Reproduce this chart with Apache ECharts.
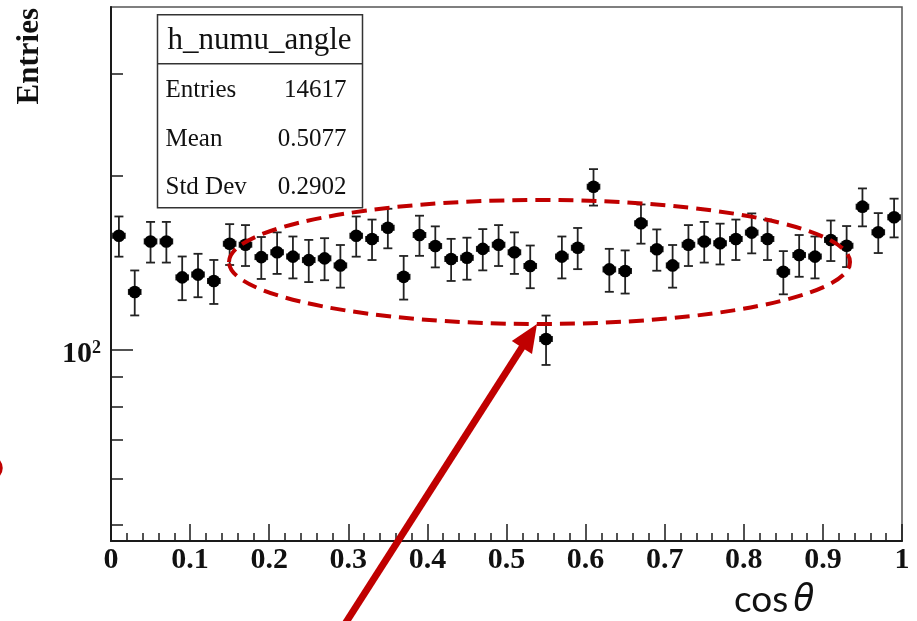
<!DOCTYPE html>
<html>
<head>
<meta charset="utf-8">
<script src="https://cdn.jsdelivr.net/npm/echarts@6/dist/echarts.min.js"></script>
<style>
html,body{margin:0;padding:0;background:#fff;}
#chart{width:917px;height:621px;}
</style>
</head>
<body>
<div id="chart"></div>
<script>
// ---- data ----
const binCenters = [0.01,0.03,0.05,0.07,0.09,0.11,0.13,0.15,0.17,0.19,
                    0.21,0.23,0.25,0.27,0.29,0.31,0.33,0.35,0.37,0.39,
                    0.41,0.43,0.45,0.47,0.49,0.51,0.53,0.55,0.57,0.59,
                    0.61,0.63,0.65,0.67,0.69,0.71,0.73,0.75,0.77,0.79,
                    0.81,0.83,0.85,0.87,0.89,0.91,0.93,0.95,0.97,0.99];
const counts = [157.5,126,154,154,133.5,135,131.6,152.6,152,144.7,
                147.5,145,143,144,140,157.5,155.5,162.6,133.8,158,
                151.2,143.6,144.3,149.5,152,147.5,139.7,104.5,145,150.2,
                191.4,137.8,136.9,165.5,149.3,140,152,154,152.9,155.5,
                159.5,155.5,136.5,145.9,145,154.9,151.4,176.8,159.7,169.5];
const binHalfWidth = 0.0075;
const xTickLabels = ['0','0.1','0.2','0.3','0.4','0.5','0.6','0.7','0.8','0.9','1'];
const yMinorTicks = [50,60,70,80,90,200,300];
const yMajorTicks = [100];
const statsTitle = 'h_numu_angle';
const statsNames = ['Entries','Mean','Std Dev'];
const statsValues = ['14617','0.5077','0.2902'];

const serif = '"Liberation Serif", "Times New Roman", serif';
const axisColor = '#1a1a1a';

const seriesData = binCenters.map((x, i) => [x, counts[i], Math.sqrt(counts[i])]);

const chart = echarts.init(document.getElementById('chart'), null, {renderer: 'canvas'});

function renderPoint(params, api) {
  const x = api.value(0), y = api.value(1), e = api.value(2);
  const c = api.coord([x, y]);
  const top = api.coord([x, y + e]);
  const bot = api.coord([x, y - e]);
  const l = api.coord([x - binHalfWidth, y]);
  const r = api.coord([x + binHalfWidth, y]);
  const st = {stroke: '#222', lineWidth: 1.8};
  return {
    type: 'group',
    children: [
      {type: 'line', shape: {x1: c[0], y1: top[1], x2: c[0], y2: bot[1]}, style: st},
      {type: 'line', shape: {x1: c[0] - 4.5, y1: top[1], x2: c[0] + 4.5, y2: top[1]}, style: st},
      {type: 'line', shape: {x1: c[0] - 4.5, y1: bot[1], x2: c[0] + 4.5, y2: bot[1]}, style: st},
      {type: 'line', shape: {x1: l[0], y1: c[1], x2: r[0], y2: c[1]}, style: st},
      {type: 'line', shape: {x1: l[0], y1: c[1] - 3, x2: l[0], y2: c[1] + 3}, style: st},
      {type: 'line', shape: {x1: r[0], y1: c[1] - 3, x2: r[0], y2: c[1] + 3}, style: st},
      {type: 'circle', shape: {cx: c[0], cy: c[1], r: 6.3}, style: {fill: '#000'}}
    ]
  };
}

const statsChildren = [
  {type: 'rect', shape: {x: 0, y: 0, width: 205, height: 193}, style: {fill: '#fff', stroke: '#333', lineWidth: 1.5}},
  {type: 'line', shape: {x1: 0, y1: 49, x2: 205, y2: 49}, style: {stroke: '#333', lineWidth: 1.5}},
  {type: 'text', x: 102, y: 26, style: {text: statsTitle, font: '31px ' + serif, align: 'center', verticalAlign: 'middle', fill: '#111'}}
];
statsNames.forEach((n, i) => {
  const yy = 76 + i * 48.5;
  statsChildren.push({type: 'text', x: 8, y: yy, style: {text: n, font: '25px ' + serif, align: 'left', verticalAlign: 'middle', fill: '#111'}});
  statsChildren.push({type: 'text', x: 189, y: yy, style: {text: statsValues[i], font: '25px ' + serif, align: 'right', verticalAlign: 'middle', fill: '#111'}});
});

// arrow geometry (annotation)
const tip = [537, 324], start = [343, 627];
const dx = tip[0] - start[0], dy = tip[1] - start[1];
const len = Math.hypot(dx, dy);
const ux = dx / len, uy = dy / len;
const headLen = 28, headHalf = 12;
const base = [tip[0] - ux * headLen, tip[1] - uy * headLen];
const px = -uy, py = ux;

const option = {
  backgroundColor: '#fff',
  animation: false,
  grid: {left: 111, right: 15, top: 7, bottom: 80, show: true, borderColor: '#555', borderWidth: 1.5, backgroundColor: 'transparent'},
  xAxis: {
    type: 'value', min: 0, max: 1, interval: 0.1,
    axisLine: {lineStyle: {color: axisColor, width: 2}},
    axisTick: {inside: true, length: 17, lineStyle: {color: axisColor, width: 1.5}},
    minorTick: {show: true, splitNumber: 5, length: 8, lineStyle: {color: axisColor, width: 1.5}},
    axisLabel: {
      fontFamily: serif, fontWeight: 'bold', fontSize: 30, color: '#111', margin: 4,
      formatter: v => xTickLabels[Math.round(v * 10)]
    },
    splitLine: {show: false}, minorSplitLine: {show: false}
  },
  yAxis: [
    {
      type: 'log', logBase: 10, min: 46.85, max: 390.8, position: 'left', offset: 0,
      axisLine: {show: true, lineStyle: {color: axisColor, width: 2}},
      axisTick: {show: true, inside: true, length: 12, customValues: yMinorTicks, lineStyle: {color: axisColor, width: 1.5}},
      axisLabel: {
        customValues: yMajorTicks, margin: 10, padding: [9, 0, 0, 0],
        formatter: () => '{a|10}{b|2}',
        rich: {
          a: {fontFamily: serif, fontWeight: 'bold', fontSize: 30, color: '#111', lineHeight: 30},
          b: {fontFamily: serif, fontWeight: 'bold', fontSize: 18, color: '#111', verticalAlign: 'top', lineHeight: 18}
        }
      },
      splitLine: {show: false}
    },
    {
      type: 'log', logBase: 10, min: 46.85, max: 390.8, position: 'left', offset: 0,
      axisLine: {show: false},
      axisTick: {show: true, inside: true, length: 22, customValues: yMajorTicks, lineStyle: {color: axisColor, width: 1.5}},
      axisLabel: {show: false},
      splitLine: {show: false}
    }
  ],
  series: [{
    type: 'custom',
    xAxisIndex: 0, yAxisIndex: 0,
    data: seriesData,
    renderItem: renderPoint,
    z: 5
  }],
  graphic: [
    {type: 'group', left: 155, top: 14, z: 50, children: statsChildren},
    {type: 'text', x: 30, y: 8, rotation: Math.PI / 2, z: 50,
     style: {text: 'Entries', font: 'bold 31px ' + serif, align: 'right', verticalAlign: 'middle', fill: '#111'}},
    {type: 'text', x: 734, y: 600, z: 50,
     style: {
       text: '{c|cos\u2009}{t|θ}', align: 'left', verticalAlign: 'middle',
       rich: {
         c: {fontFamily: 'Lato', fontSize: 37, fill: '#111'},
         t: {fontFamily: '"Noto Sans"', fontStyle: 'italic', fontSize: 38, fill: '#111'}
       }
     }},
    {type: 'ellipse', z: 100, shape: {cx: 539.5, cy: 262, rx: 310.5, ry: 62},
     style: {fill: 'none', stroke: '#C00000', lineWidth: 4, lineDash: [15, 8]}},
    {type: 'ellipse', z: 100, shape: {cx: -100, cy: 468, rx: 101, ry: 30},
     style: {fill: 'none', stroke: '#C00000', lineWidth: 3.5}},
    {type: 'line', z: 100, shape: {x1: start[0], y1: start[1], x2: base[0] + ux * 4, y2: base[1] + uy * 4},
     style: {stroke: '#C00000', lineWidth: 7}},
    {type: 'polygon', z: 100,
     shape: {points: [tip, [base[0] + px * headHalf, base[1] + py * headHalf], [base[0] - px * headHalf, base[1] - py * headHalf]]},
     style: {fill: '#C00000'}}
  ]
};
chart.setOption(option);
</script>
</body>
</html>
